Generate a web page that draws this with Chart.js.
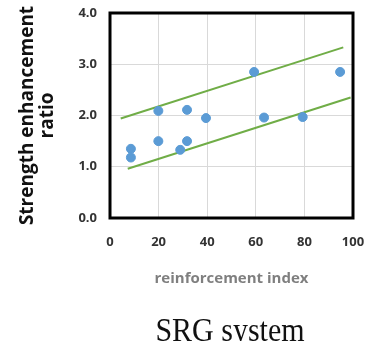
<!DOCTYPE html>
<html>
<head>
<meta charset="utf-8">
<script src="https://cdn.jsdelivr.net/npm/chart.js@4"></script>
<style>
  html, body { margin: 0; padding: 0; background: #fff; }
  #wrap { position: relative; width: 372px; height: 341px; overflow: hidden; }
  #caption { position: absolute; left: 90px; width: 280px; top: 312px; text-align: center;
    font-family: "Liberation Serif", serif; font-size: 30px; line-height: 30px; color: #111;
    transform: scaleY(1.15); transform-origin: top center; }
</style>
</head>
<body>
<div id="wrap">
  <canvas id="c" width="372" height="341"></canvas>
  <div id="caption">SRG system</div>
</div>
<script>
const indexValues = [8.6, 8.6, 19.9, 19.9, 28.9, 31.7, 31.7, 39.5, 59.3, 63.4, 79.3, 94.7];
const ratioValues = [1.35, 1.18, 2.09, 1.50, 1.33, 2.11, 1.50, 1.95, 2.85, 1.96, 1.97, 2.85];
const upperBound = [[4.4, 1.94], [96, 3.33]];
const lowerBound = [[7.3, 0.96], [99, 2.35]];
const yTicks = [0, 1, 2, 3, 4];
const xTicks = [0, 20, 40, 60, 80, 100];

const toPts = arr => arr.map(p => ({ x: p[0], y: p[1] }));

const borderBox = {
    id: 'borderBox',
    afterDraw(chart) {
        const a = chart.chartArea, ctx = chart.ctx;
        ctx.save();
        ctx.strokeStyle = '#000';
        ctx.lineWidth = 3;
        ctx.strokeRect(a.left, a.top, a.right - a.left, a.bottom - a.top);
        ctx.restore();
    }
};

new Chart(document.getElementById('c').getContext('2d'), {
    type: 'scatter',
    data: {
        datasets: [{
            data: indexValues.map((x, i) => ({ x: x, y: ratioValues[i] })),
            backgroundColor: '#5b9bd5',
            borderColor: '#5b9bd5',
            pointRadius: 4.5,
            order: 1
        }, {
            type: 'line',
            data: toPts(upperBound),
            borderColor: '#70ad47',
            borderWidth: 2,
            pointRadius: 0,
            order: 2
        }, {
            type: 'line',
            data: toPts(lowerBound),
            borderColor: '#70ad47',
            borderWidth: 2,
            pointRadius: 0,
            order: 2
        }]
    },
    options: {
        responsive: false,
        animation: false,
        layout: { padding: { top: 13, right: 19, bottom: 50, left: 0 } },
        plugins: { legend: { display: false }, tooltip: { enabled: false } },
        scales: {
            x: {
                type: 'linear', min: 0, max: 100,
                afterBuildTicks: s => { s.ticks = xTicks.map(v => ({ value: v })); },
                afterFit: s => { s.height = 73; s.paddingLeft = 0; s.paddingRight = 0; },
                grid: { color: '#d9d9d9', drawTicks: false },
                border: { display: false },
                ticks: { padding: 16, color: '#333', font: { family: 'Open Sans', weight: 'bold', size: 13 } },
                title: { display: true, text: 'reinforcement index', color: '#7f7f7f',
                    font: { family: 'Open Sans', weight: 'bold', size: 15 }, padding: { top: 8, bottom: 3 } }
            },
            y: {
                min: 0, max: 4,
                afterBuildTicks: s => { s.ticks = yTicks.map(v => ({ value: v })); },
                afterFit: s => { s.width = 110; s.paddingTop = 0; s.paddingBottom = 0; },
                grid: { color: '#d9d9d9', drawTicks: false },
                border: { display: false },
                ticks: { padding: 13, color: '#333', callback: v => v.toFixed(1),
                    font: { family: 'Open Sans', weight: 'bold', size: 13 } },
                title: { display: true, text: ['Strength enhancement', 'ratio'], color: '#111',
                    font: { family: 'Open Sans', weight: 'bold', size: 19, lineHeight: 1.05 },
                    padding: { top: 18, bottom: 0 } }
            }
        }
    },
    plugins: [borderBox]
});
</script>
</body>
</html>
